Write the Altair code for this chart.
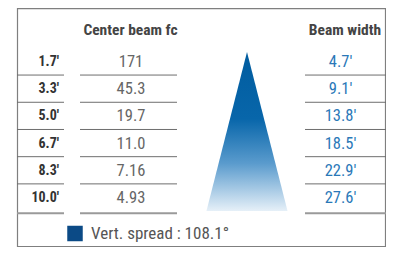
import altair as alt
import pandas as pd

# ---- data ----
distances = ["1.7'", "3.3'", "5.0'", "6.7'", "8.3'", "10.0'"]
center_fc = ["171", "45.3", "19.7", "11.0", "7.16", "4.93"]
beam_width = ["4.7'", "9.1'", "13.8'", "18.5'", "22.9'", "27.6'"]
header_fc = "Center beam fc"
header_bw = "Beam width"
spread_label = "Vert. spread"
spread_value = 108.1

rows = pd.DataFrame({
    "row": list(range(len(distances))),
    "dist": distances,
    "fc": center_fc,
    "bw": beam_width,
})

FONT = "Liberation Sans Narrow, Roboto Condensed, Arial Narrow, Roboto, sans-serif"
W, H = 378, 239
yscale = alt.Scale(domain=[-1.985, 6.80], reverse=True, nice=False, zero=False)
Y = lambda f: alt.Y(f, type="quantitative", scale=yscale, axis=None)

base = alt.Chart(rows)

frame = alt.Chart(pd.DataFrame({"k": [0]})).mark_rect(
    fill=None, stroke="#7f7f7f", strokeWidth=1.2
).encode(x=alt.value(9.5), x2=alt.value(377.5), y=alt.value(0.6), y2=alt.value(238.5))

row_lines = base.transform_filter("datum.row < 5").transform_calculate(
    ly="datum.row + 0.48"
)
last_line = base.transform_filter("datum.row == 5").transform_calculate(
    ly="datum.row + 0.56"
)

def seg(src, x1, x2, color, sw):
    return src.mark_rule(color=color, strokeWidth=sw).encode(
        x=alt.value(x1), x2=alt.value(x2), y=Y("ly")
    )

lines = []
for (x1, x2) in [(9, 56), (72, 169), (297, 378)]:
    lines.append(seg(row_lines, x1, x2, "#6e6e6e", 1))
    lines.append(seg(last_line, x1, x2, "#9a9a9a", 2))

dist_text = base.mark_text(
    align="right", baseline="middle", font=FONT, fontSize=14, fontWeight="bold", color="#333333"
).encode(x=alt.value(51), y=Y("row"), text="dist:N")

fc_text = base.mark_text(
    align="center", baseline="middle", font=FONT, fontSize=16.5, color="#666666"
).encode(x=alt.value(123), y=Y("row"), text="fc:N")

bw_text = base.mark_text(
    align="center", baseline="middle", font=FONT, fontSize=16.5, color="#2a78b8"
).encode(x=alt.value(332.5), y=Y("row"), text="bw:N")

hdr = alt.Chart(pd.DataFrame({"t": [header_fc, header_bw], "c": [0, 1]}))
hdr_text = hdr.mark_text(
    align="center", baseline="middle", font=FONT, fontSize=15.5, fontWeight="bold", color="#444444"
).encode(
    x=alt.X("c:Q", scale=alt.Scale(domain=[0, 1], range=[122.5, 337], zero=False, nice=False), axis=None),
    y=alt.value(21.5),
    text="t:N",
)

beam = alt.Chart(pd.DataFrame({"k": [0]})).mark_point(
    shape="M0,-1L0.51,1L-0.51,1Z",
    filled=True,
    opacity=1,
    strokeWidth=0,
    fill={
        "gradient": "linear",
        "x1": 0, "y1": 0, "x2": 0, "y2": 1,
        "stops": [
            {"offset": 0, "color": "#005c9f"},
            {"offset": 0.42, "color": "#0866aa"},
            {"offset": 0.7, "color": "#5a9bcd"},
            {"offset": 1, "color": "#e6f0f8"},
        ],
    },
).encode(x=alt.value(239), y=alt.value(123.5), size=alt.value(159 * 159))

leg = alt.Chart(pd.DataFrame({"lab": [spread_label], "v": [spread_value]}))
leg_sq = leg.mark_square(filled=True, color="#0b4a86", opacity=1).encode(
    x=alt.value(67), y=alt.value(225.5), size=alt.value(240)
)
leg_text = leg.transform_calculate(
    t="datum.lab + ' : ' + format(datum.v, '.1f') + '°'"
).mark_text(
    align="left", baseline="middle", font=FONT, fontSize=17, color="#555555"
).encode(x=alt.value(83), y=alt.value(226), text="t:N")

chart = alt.layer(
    frame, *lines, dist_text, fc_text, bw_text, hdr_text, beam, leg_sq, leg_text
).properties(width=W, height=H, padding=0, autosize="none").configure_view(stroke=None)

chart.save("out.html", embed_options={"renderer": "svg", "actions": False})
